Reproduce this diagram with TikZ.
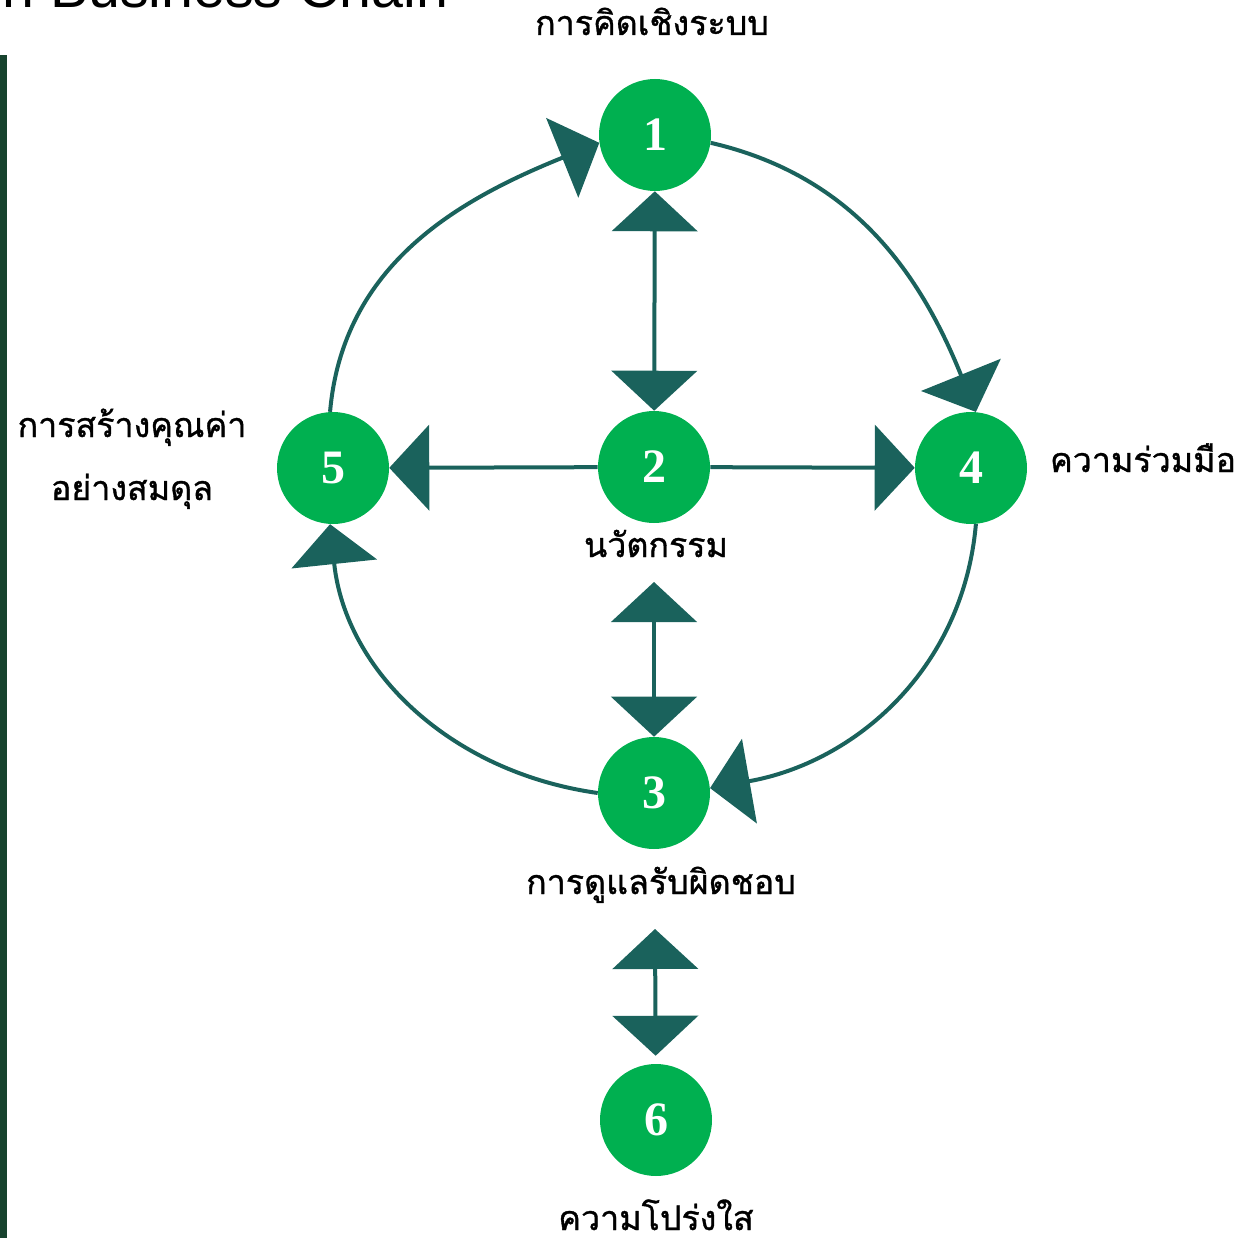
\documentclass[tikz,border=0pt]{standalone}
\usepackage{fontspec}
\setmainfont{Liberation Serif}
\newfontfamily\thaifont[Script=Thai, FakeBold=1]{Loma}
\newfontfamily\titlefont{Liberation Sans}
\usetikzlibrary{arrows.meta}

\definecolor{nodegreen}{HTML}{00B050}
\definecolor{linkteal}{HTML}{1A625C}
\definecolor{bargreen}{HTML}{17432E}

\begin{document}
\begin{tikzpicture}[x=0.75pt,y=0.75pt,
  numnode/.style={circle, fill=nodegreen, minimum size=84pt, inner sep=0pt,
    text=white, font=\fontsize{36}{36}\selectfont\bfseries},
  thailabel/.style={font=\thaifont\fontsize{25.5}{30}\selectfont, inner sep=0pt, anchor=base},
  tip/.tip={Triangle[length=30pt,width=64pt]},
  link/.style={draw=linkteal, line width=3pt, -tip},
  dbllink/.style={draw=linkteal, line width=3pt, tip-tip},
]
\useasboundingbox (0,0) rectangle (1258,-1238);
\clip (0,0) rectangle (1258,-1238);

% heading strip and side bar
\node[anchor=base west, inner sep=0pt, font=\titlefont\fontsize{43}{43}\selectfont] (title) at (2,-8) {n Business Chain};
\fill[bargreen] (0,-55) rectangle (7,-1238);

% numbered circles
\node[numnode] (n1) at (655,-135) {1};
\node[numnode] (n2) at (654,-467) {2};
\node[numnode] (n3) at (654,-793) {3};
\node[numnode] (n4) at (971,-468) {4};
\node[numnode] (n5) at (333,-468) {5};
\node[numnode] (n6) at (656,-1120) {6};

% labels
\node[thailabel] (l1) at (652,-35) {การคิดเชิงระบบ};
\node[thailabel] (l2) at (656,-557) {นวัตกรรม};
\node[thailabel] (l3) at (661,-894) {การดูแลรับผิดชอบ};
\node[thailabel] (l4) at (1143,-472) {ความร่วมมือ};
\node[thailabel] (l5a) at (132,-437) {การสร้างคุณค่า};
\node[thailabel] (l5b) at (132,-500) {อย่างสมดุล};
\node[thailabel] (l6) at (656,-1230) {ความโปร่งใส};

% free ends of the short double arrows
\coordinate (c23) at (654,-582);
\coordinate (c36) at (655,-929);

% outer cycle 5 -> 1 -> 4 -> 3 -> 5
\draw[link] (n5.93) to[out=85,in=-158] (n1.188);
\draw[link] (n1.-8) to[out=-13,in=112] (n4.85);
\draw[link] (n4.-85) to[out=-95,in=10] (n3.5);
\draw[link] (n3.west) to[out=172,in=-84] (n5.-93);

% spokes from the centre
\draw[dbllink] (n1) -- (n2);
\draw[link] (n2) -- (n5);
\draw[link] (n2) -- (n4);
\draw[dbllink] (c23) -- (n3);
\draw[dbllink, shorten >=6pt] (c36) -- (n6);
\end{tikzpicture}
\end{document}
